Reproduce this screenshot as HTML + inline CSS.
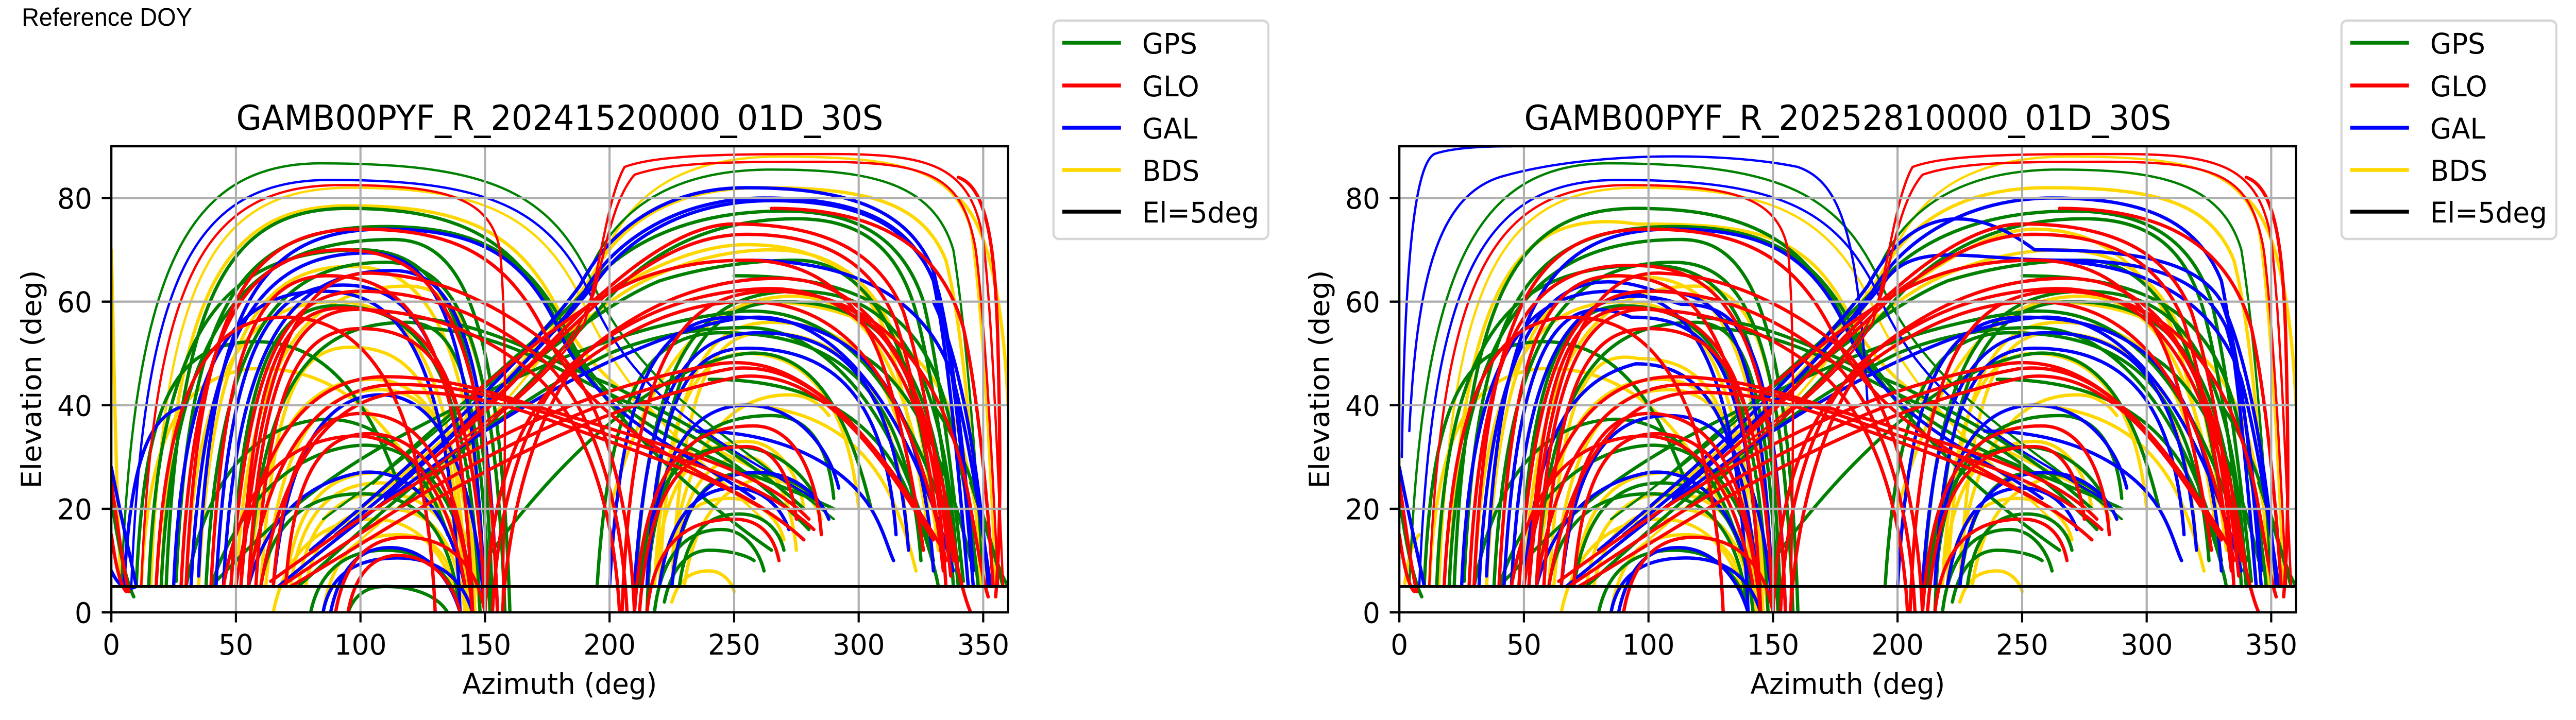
<!DOCTYPE html>
<html><head><meta charset="utf-8"><style>
html,body{margin:0;padding:0;background:#fff;width:100%;height:100%;overflow:hidden}
svg{display:block;width:100vw;height:100vh}
text{font-family:"DejaVu Sans","Liberation Sans",sans-serif;fill:#000}
.trk path{fill:none;stroke-width:6.5px;vector-effect:non-scaling-stroke;stroke-linecap:round;stroke-linejoin:round}
.trk path.th{stroke-width:4.5px}
</style></head><body>
<svg xmlns="http://www.w3.org/2000/svg" viewBox="0 0 5228 1398" preserveAspectRatio="none">
<defs>
<clipPath id="cl1"><rect x="226" y="284" width="1820" height="905"/></clipPath>
<clipPath id="cl2"><rect x="2840" y="284" width="1820" height="905"/></clipPath>
</defs>
<rect width="5228" height="1398" fill="#fff"/>
<text x="44" y="50" font-size="49" style="font-family:'Liberation Sans',Arial,sans-serif">Reference DOY</text>

<!-- ================= LEFT PANEL ================= -->
<g clip-path="url(#cl1)">
<g class="trk" transform="translate(226,1189) scale(5.0556,-10.0556)">
<g stroke="#ffd700">
<path class="th" d="M16 5 C21 65 41 82 96 82 C152 82 175 76 192 57 C212 37 248 25 270 14"/>
<path d="M20 5 C25 62 45 78.5 95 78.5 C145 78.5 165 73 182 56 C200 40 240 32 275 24"/>
<path d="M35 5 C40 53 59 66.8 96 66.8 C128 66.8 146 53 150 0"/>
<path d="M50 5 C55 50 78 63 119 63 C142 63 154 50 158 0"/>
<path d="M60 5 C65 41 74 51.2 96 51.2 C124 51.2 138 41 142 0"/>
<path d="M55 5 C60 35 78 45 105 45 C128 45 143 33 148 0"/>
<path d="M62 5 C67 33 83 43 108 43 C130 43 143 32 146 0"/>
<path d="M70 5 C74 22 88 27 108 27 C128 27 144 22 148 0"/>
<path d="M72 5 C76 20 90 25 108 25 C127 25 142 20 146 0"/>
<path d="M75 5 C79 18 92 23 108 23 C126 23 140 18 144 0"/>
<path d="M78 5 C82 16 95 20 110 20 C126 20 138 16 142 0"/>
<path d="M85 0 C89 12 100 15 115 15 C128 15 137 12 140 0"/>
<path d="M30 5 C34 48 55 60 90 60 C122 60 139 46 143 0"/>
<path d="M12 5 C15 35 28 45 55 47 C85 48 110 40 130 20"/>
<path d="M65 0 C70 12 85 18 105 18 C122 18 135 12 140 0"/>
<path class="th" d="M95 12 C135 28 178 48 197 68 C207 80 227 88 268 88 C315 88 338 86 345 74 C350 58 353 25 355 5"/>
<path d="M100 20 C140 35 175 52 193 65 C204 75 225 82 260 82 C300 82 325 80 335 68 C342 55 346 30 349 5"/>
<path d="M135 38 C158 47 182 56 200 62 C215 66 235 71 255 71 C283 71 300 66 310 55 C318 45 325 25 330 10"/>
<path d="M150 40 C170 48 192 58 210 63 C225 67 245 70 265 70 C290 70 305 64 314 54 C322 44 328 28 332 12"/>
<path d="M220 5 C224 45 238 56 265 56 C301 56 320 45 325 10"/>
<path d="M225 5 C229 43 240 54 262 54 C296 54 316 43 320 12"/>
<path d="M218 5 C222 40 235 50 255 50 C280 50 296 40 300 20"/>
<path d="M218 5 C221 26 235 33 255 33 C267 33 276 27 278 20"/>
<path d="M225 5 C228 24 240 30 255 30 C265 30 273 22 275 12"/>
<path d="M225 2 C228 7 234 8 240 8 C245 8 249 6 250 4"/>
<path d="M225 10 C230 30 245 42 272 42 C280 42 285 40 288 38"/>
<path d="M230 5 C234 20 250 26 265 26 C275 26 282 22 285 18"/>
<path d="M220 5 C223 18 234 22 248 22 C260 22 268 18 270 14"/>
<path d="M200 20 C215 45 235 60 270 61 C300 62 318 50 328 20"/>
<path d="M260 60 C305 60 330 50 340 35 C346 25 350 12 352 5"/>
<path d="M250 40 C285 40 305 32 315 20 C320 14 322 10 323 8"/>
<path d="M0 70 C1 50 2 20 4 5"/>
<path d="M340 80 C352 75 358 60 360 40"/>
</g>
<g stroke="#008000">
<path class="th" d="M4 5 C9 65 29 86.7 84 86.7 C155 86.7 178 80.7 195 61.7 C215 41.7 260 30 290 18"/>
<path d="M22 5 C27 62 47 78 95 78 C140 78 163 72 180 55 C198 38 235 22 265 12"/>
<path d="M26 6 C31 60 51 74.5 110 74.5 C150 74.5 170 68 185 52 C205 33 255 28 290 20"/>
<path d="M20 5 C25 58 57 72 113 72 C141 72 156 58 160 0"/>
<path d="M15 5 C19 55 45 70 100 70 C135 70 150 55 153 0"/>
<path d="M38 5 C43 54 67 67.6 110 67.6 C139 67.6 154 54 158 0"/>
<path d="M48 5 C53 47 65 59.2 90 59.2 C125 59.2 144 47 148 0"/>
<path d="M55 5 C60 45 81 56 119 56 C139 56 148 45 152 0"/>
<path d="M10 5 C13 40 25 50 50 52 C80 54 100 45 115 25"/>
<path d="M80 0 C84 9 96 12 110 12 C124 12 136 9 140 0"/>
<path d="M95 0 C98 4 104 5 110 5 C118 5 130 4 135 0"/>
<path d="M60 5 C64 18 80 22.9 100 22.9 C120 22.9 136 18 140 0"/>
<path d="M40 5 C50 20 70 30 95 32 C120 34 138 25 145 5"/>
<path d="M30 5 C38 25 55 35 80 37 C105 39 125 30 135 15"/>
<path d="M120 57 C150 56 170 50 200 44 C235 36 260 28 278 20"/>
<path d="M125 55 C155 54 175 48 205 41 C238 34 262 25 280 16"/>
<path d="M40 5 C60 15 80 25 120 35 C160 45 200 55 250 58 C290 60 320 45 340 10"/>
<path d="M75 5 C110 20 150 38 200 50 C220 54 240 55 255 55 C285 55 315 40 330 10"/>
<path class="th" d="M85 18 C125 32 170 50 192 66 C203 78 225 85.5 265 85.5 C305 85.5 330 83 338 70 C343 55 347 30 350 5"/>
<path d="M105 25 C135 38 170 52 190 62 C203 70 228 77.5 270 77.5 C300 77.5 318 72 326 60 C332 48 338 25 342 6"/>
<path d="M115 20 C145 32 175 48 195 58 C208 66 232 76 275 76 C302 76 316 70 323 58 C330 45 336 25 340 5"/>
<path d="M160 45 C180 52 200 60 220 64 C240 67 260 68 275 68 C295 68 310 60 318 48 C325 38 330 22 334 10"/>
<path d="M210 0 C214 50 236 62 275 62 C314 62 335 50 340 5"/>
<path d="M215 0 C219 48 237 60 270 60 C311 60 333 48 338 5"/>
<path d="M195 5 C200 43 215 54 245 54 C293 54 320 43 325 10"/>
<path d="M215 5 C219 30 235 38 265 38 C280 38 288 32 290 22"/>
<path d="M212 5 C216 25 228 32 250 32 C268 32 280 26 285 20"/>
<path d="M218 0 C221 12 232 16 245 16 C254 16 260 12 262 8"/>
<path d="M225 5 C229 22 240 27 255 27 C272 27 284 23 288 18"/>
<path d="M222 2 C225 9 232 12 240 12 C248 12 255 11 258 10"/>
<path d="M228 5 C231 16 240 19 252 19 C262 19 268 16 270 12"/>
<path d="M150 10 C180 30 220 48 255 50 C280 51 295 40 305 20"/>
<path d="M250 65 C300 65 325 58 335 40 C342 28 346 15 348 5"/>
<path d="M240 45 C280 45 305 38 318 25 C325 18 330 10 332 5"/>
<path d="M300 50 C320 45 335 30 345 10"/>
<path d="M0 22 C3 12 6 6 9 3"/>
<path d="M330 40 C345 30 352 15 358 5"/>
<path d="M345 25 C352 15 356 8 360 5"/>
</g>
<g stroke="#0000ff">
<path class="th" d="M8 5 C13 65 33 83.5 88 83.5 C155 83.5 178 77.5 195 58.5 C215 38.5 255 30 282 22"/>
<path d="M35 7 C40 60 60 74 110 74 C150 74 168 68 182 52 C200 36 235 30 258 22"/>
<path d="M32 5 C37 55 60 69.4 103 69.4 C131 69.4 146 55 150 0"/>
<path d="M45 5 C50 53 72 66 113 66 C138 66 151 53 155 0"/>
<path d="M42 5 C47 50 62 63.2 93 63.2 C124 63.2 141 50 145 0"/>
<path d="M25 5 C29 50 50 62 85 62 C118 62 136 48 140 0"/>
<path d="M5 5 C8 30 15 38 30 40"/>
<path d="M55 5 C62 18 78 25 100 27 C120 28 135 20 142 5"/>
<path d="M85 0 C88 8 100 10.5 115 10.5 C128 10.5 140 8 145 0"/>
<path d="M67 5 C110 22 150 37 198 48 C225 54 245 57 260 57 C290 57 320 40 338 8"/>
<path d="M80 12 C120 28 165 48 188 63 C200 74 222 82 255 82 C295 82 320 78 330 66 C337 52 342 30 346 5"/>
<path d="M90 15 C130 30 172 50 190 62 C202 72 228 80 262 80 C298 80 320 76 330 64 C336 50 340 28 344 5"/>
<path d="M110 22 C140 35 175 52 195 64 C207 72 230 79.5 265 79.5 C300 79.5 322 75 332 62 C338 50 343 28 346 8"/>
<path d="M200 5 C205 46 220 57 250 57 C298 57 325 46 330 8"/>
<path d="M210 5 C215 43 230 54 260 54 C296 54 315 43 320 12"/>
<path d="M215 5 C219 41 231 51 255 51 C291 51 311 41 315 15"/>
<path d="M220 5 C224 19 236 24 250 24 C262 24 269 20 272 16"/>
<path d="M215 5 C218 30 232 40 255 40 C275 40 288 32 292 24"/>
<path d="M65 5 C70 30 85 42 108 42 C130 42 145 30 150 0"/>
<path d="M88 0 C92 9 100 12.5 112 12.5 C124 12.5 135 8 140 0"/>
<path d="M225 5 C228 22 240 27 260 27 C275 27 285 22 288 18"/>
<path d="M255 68 C300 68 328 60 338 45 C345 32 350 15 353 5"/>
<path d="M235 35 C270 35 295 28 305 20 C310 16 312 12 314 10"/>
<path d="M330 60 C340 50 348 30 352 5"/>
<path d="M0 28 C4 18 8 10 10 5"/>
<path d="M0 8 C3 5 6 4 10 5"/>
</g>
<g stroke="#ff0000">
<path class="th" d="M12 5 C17 65 37 82.5 92 82.5 C135 82.5 152 80 156 70 C159 55 158 25 157 0"/>
<path d="M30 5 C35 60 55 74 100 74 C140 74 160 68 175 53 C195 35 235 28 262 20"/>
<path d="M28 5 C33 56 54 70 93 70 C131 70 151 56 155 0"/>
<path d="M40 5 C45 52 59 65 87 65 C122 65 141 52 145 0"/>
<path d="M52 5 C57 47 68 58.8 93 58.8 C127 58.8 146 47 150 0"/>
<path d="M58 5 C63 44 75 54.8 100 54.8 C131 54.8 146 44 150 0"/>
<path d="M18 5 C22 45 40 57 70 57 C100 57 126 44 130 0"/>
<path d="M65 5 C69 30 82 38.4 100 38.4 C122 38.4 140 30 145 0"/>
<path d="M70 5 C73 27 85 34.5 103 34.5 C122 34.5 140 27 145 0"/>
<path d="M45 5 C52 25 70 33 95 34 C118 35 135 25 142 5"/>
<path d="M90 0 C94 11 105 14.5 118 14.5 C132 14.5 146 11 150 0"/>
<path d="M95 0 C98 8 106 11 115 11 C125 11 136 8 140 0"/>
<path d="M64 6 C110 22 170 42 244 48 C275 50 300 38 330 15"/>
<path d="M68 5 C115 20 172 40 248 47 C280 49 305 35 334 12"/>
<path d="M72 5 C118 18 176 38 252 45.5 C282 47 305 34 330 14"/>
<path d="M50 5 C58 32 78 45.5 110 45.5 C140 45.5 160 41 190 37 C230 31 262 27 280 18"/>
<path d="M55 5 C63 30 82 44 115 44 C145 44 165 40 195 35 C232 29 262 25 282 16"/>
<path d="M60 5 C68 28 88 42.5 120 42.5 C150 42.5 170 38 200 33 C235 27 260 22 278 14"/>
<path class="th" d="M130 28 C155 38 178 46 190 56 C196 66 199 80 206 86 C220 88.5 250 88.5 290 88.5 C330 88.5 345 86 350 72 C354 55 356 25 358 5"/>
<path class="th" d="M140 33 C165 42 185 50 194 62 C199 72 202 80 210 84.5 C225 87 250 87 285 87 C330 87 342 84 347 70 C351 55 354 25 356 5"/>
<path d="M130 30 C155 40 180 55 198 62 C212 68 232 75 250 75 C285 75 308 70 318 58 C326 46 333 25 337 7"/>
<path d="M140 35 C160 44 185 55 200 62 C215 67 232 73 255 73 C285 73 305 68 315 56 C323 44 330 25 334 8"/>
<path d="M145 42 C165 50 190 60 210 64 C225 67 240 68 255 68 C280 68 298 62 308 50 C316 40 322 25 326 12"/>
<path d="M205 0 C209 50 229 62 265 62 C307 62 330 50 335 5"/>
<path d="M210 0 C214 28 230 36 258 36 C273 36 283 28 285 15"/>
<path d="M212 0 C216 25 230 32 255 32 C266 32 273 26 275 18"/>
<path d="M215 0 C218 14 232 18 250 18 C260 18 266 15 268 10"/>
<path d="M153 0 C155 20 165 38 185 48 C210 58 235 62 262 62.5 C300 63 325 50 338 10"/>
<path d="M157 0 C160 22 172 40 190 50 C215 60 240 64.5 268 64.5 C305 64.5 328 48 340 8"/>
<path d="M150 0 C152 20 160 35 178 44 C205 55 230 60 255 60 C295 60 320 45 335 10"/>
<path d="M207 0 C205 20 195 38 175 48 C150 58 125 62 100 62 C70 62 55 50 48 5"/>
<path d="M210 0 C208 22 198 40 180 50 C155 60 130 65 105 65.5 C78 66 60 52 52 5"/>
<path d="M204 0 C202 18 193 35 172 45 C148 55 125 58 100 58.5 C75 59 60 48 55 5"/>
<path d="M265 78 C310 78 333 70 342 55 C348 42 352 20 354 5"/>
<path d="M290 60 C320 55 338 40 345 20 C348 12 350 6 352 3"/>
<path d="M340 84 C352 82 355 70 356 50 C357 30 357 15 355 3"/>
<path d="M0 25 C3 15 5 8 7 4"/>
<path d="M0 15 C2 8 4 5 6 4"/>
<path d="M338 12 C341 6 343 2 345 0"/>
</g>
</g>
</g>
<!-- grid left -->
<g stroke="#b0b0b0" stroke-width="4.4">
<line x1="478.8" y1="284" x2="478.8" y2="1189"/><line x1="731.6" y1="284" x2="731.6" y2="1189"/>
<line x1="984.3" y1="284" x2="984.3" y2="1189"/><line x1="1237.1" y1="284" x2="1237.1" y2="1189"/>
<line x1="1489.9" y1="284" x2="1489.9" y2="1189"/><line x1="1742.7" y1="284" x2="1742.7" y2="1189"/>
<line x1="1995.4" y1="284" x2="1995.4" y2="1189"/>
<line x1="226" y1="987.9" x2="2046" y2="987.9"/><line x1="226" y1="786.8" x2="2046" y2="786.8"/>
<line x1="226" y1="585.7" x2="2046" y2="585.7"/><line x1="226" y1="384.6" x2="2046" y2="384.6"/>
</g>
<line x1="226" y1="1138.7" x2="2046" y2="1138.7" stroke="#000" stroke-width="5.5"/>
<rect x="226" y="284" width="1820" height="905" fill="none" stroke="#000" stroke-width="4.4"/>
<g stroke="#000" stroke-width="4.4">
<line x1="226" y1="1189" x2="226" y2="1208.5"/><line x1="478.8" y1="1189" x2="478.8" y2="1208.5"/>
<line x1="731.6" y1="1189" x2="731.6" y2="1208.5"/><line x1="984.3" y1="1189" x2="984.3" y2="1208.5"/>
<line x1="1237.1" y1="1189" x2="1237.1" y2="1208.5"/><line x1="1489.9" y1="1189" x2="1489.9" y2="1208.5"/>
<line x1="1742.7" y1="1189" x2="1742.7" y2="1208.5"/><line x1="1995.4" y1="1189" x2="1995.4" y2="1208.5"/>
<line x1="206.5" y1="1189" x2="226" y2="1189"/><line x1="206.5" y1="987.9" x2="226" y2="987.9"/>
<line x1="206.5" y1="786.8" x2="226" y2="786.8"/><line x1="206.5" y1="585.7" x2="226" y2="585.7"/>
<line x1="206.5" y1="384.6" x2="226" y2="384.6"/>
</g>
<g font-size="55.6" text-anchor="middle">
<text x="226" y="1271">0</text><text x="478.8" y="1271">50</text><text x="731.6" y="1271">100</text>
<text x="984.3" y="1271">150</text><text x="1237.1" y="1271">200</text><text x="1489.9" y="1271">250</text>
<text x="1742.7" y="1271">300</text><text x="1995.4" y="1271">350</text>
<text x="1136" y="1347">Azimuth (deg)</text>
<text transform="translate(83,736.5) rotate(-90)">Elevation (deg)</text>
</g>
<g font-size="55.6" text-anchor="end">
<text x="187" y="1209.5">0</text><text x="187" y="1008.4">20</text><text x="187" y="807.3">40</text>
<text x="187" y="606.2">60</text><text x="187" y="405.1">80</text>
</g>
<text x="1136" y="252" font-size="66.7" text-anchor="middle">GAMB00PYF_R_20241520000_01D_30S</text>
<!-- legend left -->
<rect x="2138" y="40" width="436" height="424" rx="11" fill="#fff" stroke="#d6d6d6" stroke-width="4.4"/>
<g stroke-width="7.5">
<line x1="2156" y1="83" x2="2275" y2="83" stroke="#008000"/>
<line x1="2156" y1="166" x2="2275" y2="166" stroke="#ff0000"/>
<line x1="2156" y1="248" x2="2275" y2="248" stroke="#0000ff"/>
<line x1="2156" y1="330" x2="2275" y2="330" stroke="#ffd700"/>
<line x1="2156" y1="411" x2="2275" y2="411" stroke="#000"/>
</g>
<g font-size="55.6">
<text x="2318" y="104">GPS</text><text x="2318" y="187">GLO</text><text x="2318" y="269">GAL</text>
<text x="2318" y="351">BDS</text><text x="2318" y="432">El=5deg</text>
</g>

<!-- ================= RIGHT PANEL ================= -->
<g clip-path="url(#cl2)">
<g class="trk" transform="translate(2840,1189) scale(5.0556,-10.0556)">
<g stroke="#ffd700">
<path class="th" d="M16 5 C21 65 41 82 96 82 C152 82 175 76 192 57 C212 37 248 25 270 14"/>
<path d="M20 5 C25 62 45 78.5 95 75 C145 75 165 73 182 56 C200 40 240 32 275 24"/>
<path d="M35 5 C40 53 59 66.8 96 64.8 C128 64.8 146 53 150 0"/>
<path d="M50 5 C55 50 78 63 119 63 C142 63 154 50 158 0"/>
<path d="M60 5 C65 41 74 51.2 96 49 C124 49 138 41 142 0"/>
<path d="M55 5 C60 35 78 45 105 45 C128 45 143 33 148 0"/>
<path d="M62 5 C67 33 83 43 108 43 C130 43 143 32 146 0"/>
<path d="M70 5 C74 22 88 27 108 27 C128 27 144 22 148 0"/>
<path d="M75 5 C79 18 92 23 108 23 C126 23 140 18 144 0"/>
<path d="M78 5 C82 16 95 20 110 20 C126 20 138 16 142 0"/>
<path d="M85 0 C89 12 100 15 115 15 C128 15 137 12 140 0"/>
<path d="M30 5 C34 48 55 60 90 60 C122 60 139 46 143 0"/>
<path d="M12 5 C15 35 28 45 55 47 C85 48 110 40 130 20"/>
<path d="M65 0 C70 12 85 18 105 18 C122 18 135 12 140 0"/>
<path class="th" d="M95 12 C135 28 178 48 197 68 C207 80 227 88 268 88 C315 88 338 86 345 74 C350 58 353 25 355 5"/>
<path d="M100 20 C140 35 175 52 193 65 C204 75 225 82 260 82 C300 82 325 80 335 68 C342 55 346 30 349 5"/>
<path d="M135 38 C158 47 182 56 200 62 C215 66 235 74 255 74 C283 74 300 66 310 55 C318 45 325 25 330 10"/>
<path d="M150 40 C170 48 192 58 210 63 C225 67 245 70 265 70 C290 70 305 64 314 54 C322 44 328 28 332 12"/>
<path d="M220 5 C224 45 238 56 265 56 C301 56 320 45 325 10"/>
<path d="M225 5 C229 43 240 54 262 54 C296 54 316 43 320 12"/>
<path d="M218 5 C222 40 235 50 255 50 C280 50 296 40 300 20"/>
<path d="M218 5 C221 26 235 33 255 33 C267 33 276 27 278 20"/>
<path d="M225 2 C228 7 234 8 240 8 C245 8 249 6 250 4"/>
<path d="M225 10 C230 30 245 42 272 42 C280 42 285 40 288 38"/>
<path d="M230 5 C234 20 250 26 265 26 C275 26 282 22 285 18"/>
<path d="M220 5 C223 18 234 22 248 22 C260 22 268 18 270 14"/>
<path d="M200 20 C215 45 235 60 270 61 C300 62 318 50 328 20"/>
<path d="M260 60 C305 60 330 50 340 35 C346 25 350 12 352 5"/>
<path d="M250 40 C285 40 305 32 315 20 C320 14 322 10 323 8"/>
<path d="M340 80 C352 75 358 60 360 40"/>
<path d="M2 5 C4 12 6 14 8 15"/>
</g>
<g stroke="#008000">
<path class="th" d="M4 5 C9 65 29 86.7 84 86.7 C155 86.7 178 80.7 195 61.7 C215 41.7 260 30 290 18"/>
<path d="M22 5 C27 62 47 78 95 78 C140 78 163 72 180 55 C198 38 235 22 265 12"/>
<path d="M26 6 C31 60 51 74.5 110 74.5 C150 74.5 170 68 185 52 C205 33 255 28 290 20"/>
<path d="M20 5 C25 58 57 72 113 72 C141 72 156 58 160 0"/>
<path d="M15 5 C19 55 45 67 100 67 C135 67 150 55 153 0"/>
<path d="M38 5 C43 54 67 67.6 110 67.6 C139 67.6 154 54 158 0"/>
<path d="M48 5 C53 47 65 59.2 90 59.2 C125 59.2 144 47 148 0"/>
<path d="M55 5 C60 45 81 56 119 56 C139 56 148 45 152 0"/>
<path d="M10 5 C13 40 25 50 50 52 C80 54 100 45 115 25"/>
<path d="M80 0 C84 9 96 12 110 12 C124 12 136 9 140 0"/>
<path d="M60 5 C64 18 80 22.9 100 22.9 C120 22.9 136 18 140 0"/>
<path d="M70 5 C75 20 88 25 105 25 C122 25 138 20 142 0"/>
<path d="M40 5 C50 20 70 30 95 32 C120 34 138 25 145 5"/>
<path d="M30 5 C38 25 55 35 80 37 C105 39 125 30 135 15"/>
<path d="M120 57 C150 56 170 50 200 44 C235 36 260 28 278 20"/>
<path d="M125 55 C155 54 175 48 205 41 C238 34 262 25 280 16"/>
<path d="M40 5 C60 15 80 25 120 35 C160 45 200 55 250 58 C290 60 320 45 340 10"/>
<path d="M75 5 C110 20 150 38 200 50 C220 54 240 55 255 55 C285 55 315 40 330 10"/>
<path class="th" d="M85 18 C125 32 170 50 192 66 C203 78 225 85.5 265 85.5 C305 85.5 330 83 338 70 C343 55 347 30 350 5"/>
<path d="M105 25 C135 38 170 52 190 62 C203 70 228 77.5 270 77.5 C300 77.5 318 72 326 60 C332 48 338 25 342 6"/>
<path d="M115 20 C145 32 175 48 195 58 C208 66 232 76 275 76 C302 76 316 70 323 58 C330 45 336 25 340 5"/>
<path d="M160 45 C180 52 200 60 220 64 C240 67 260 68 275 68 C295 68 310 60 318 48 C325 38 330 22 334 10"/>
<path d="M210 0 C214 50 236 62 275 62 C314 62 335 50 340 5"/>
<path d="M215 0 C219 48 237 60 270 60 C311 60 333 48 338 5"/>
<path d="M195 5 C200 43 215 54 245 54 C293 54 320 43 325 10"/>
<path d="M215 5 C219 30 235 38 265 38 C280 38 288 32 290 22"/>
<path d="M212 5 C216 25 228 32 250 32 C268 32 280 26 285 20"/>
<path d="M218 0 C221 12 232 16 245 16 C254 16 260 12 262 8"/>
<path d="M225 5 C229 22 240 27 255 27 C272 27 284 23 288 18"/>
<path d="M222 2 C225 9 232 12 240 12 C248 12 255 11 258 10"/>
<path d="M228 5 C231 16 240 19 252 19 C262 19 268 16 270 12"/>
<path d="M150 10 C180 30 220 48 255 50 C280 51 295 40 305 20"/>
<path d="M250 65 C300 65 325 58 335 40 C342 28 346 15 348 5"/>
<path d="M240 45 C280 45 305 38 318 25 C325 18 330 10 332 5"/>
<path d="M300 50 C320 45 335 30 345 10"/>
<path d="M0 22 C3 12 6 6 9 3"/>
<path d="M330 40 C345 30 352 15 358 5"/>
<path d="M345 25 C352 15 356 8 360 5"/>
</g>
<g stroke="#0000ff">
<path class="th" d="M1 30 C2 62 5 86 14 88.5 C20 89.5 30 90 45 90"/>
<path class="th" d="M4 35 C7 64 15 80 40 84 C75 89 130 89 160 86 C178 83 184 72 188 40"/>
<path class="th" d="M8 5 C13 65 33 83.5 88 83.5 C155 83.5 178 77.5 195 58.5 C215 38.5 255 30 282 22"/>
<path d="M35 7 C40 60 60 74 110 74 C150 74 168 68 182 52 C200 36 235 30 258 22"/>
<path d="M32 5 C37 55 60 69.4 103 62 C131 62 146 55 150 0"/>
<path d="M45 5 C50 53 72 66 113 59.5 C138 59.5 151 53 155 0"/>
<path d="M42 5 C47 50 62 63.2 93 57 C124 57 141 50 145 0"/>
<path d="M50 5 C55 35 70 45 95 48 C120 48 138 40 145 0"/>
<path d="M25 5 C29 50 50 62 85 62 C118 62 136 48 140 0"/>
<path d="M55 5 C62 18 78 25 100 27 C120 28 135 20 142 5"/>
<path d="M85 0 C88 8 100 10.5 115 10.5 C128 10.5 140 8 145 0"/>
<path d="M67 5 C110 22 150 37 198 48 C225 54 245 57 260 57 C290 57 320 40 338 8"/>
<path d="M80 12 C120 28 165 48 188 63 C200 74 222 82 255 70 C295 70 320 68 330 60 C337 52 342 30 346 5"/>
<path d="M90 15 C130 30 172 50 190 62 C202 72 228 80 262 80 C298 80 320 76 330 64 C336 50 340 28 344 5"/>
<path d="M110 22 C140 35 175 52 195 64 C207 72 230 68 265 68 C300 68 322 65 332 55 C338 45 343 28 346 8"/>
<path d="M200 5 C205 46 220 57 250 57 C298 57 325 46 330 8"/>
<path d="M210 5 C215 43 230 54 260 54 C296 54 315 43 320 12"/>
<path d="M215 5 C219 41 231 51 255 51 C291 51 311 41 315 15"/>
<path d="M220 5 C224 19 236 24 250 24 C262 24 269 20 272 16"/>
<path d="M215 5 C218 30 232 40 255 40 C275 40 288 32 292 24"/>
<path d="M65 5 C70 30 85 38 108 38 C130 38 145 30 150 0"/>
<path d="M88 0 C92 9 100 12.5 112 12.5 C124 12.5 135 8 140 0"/>
<path d="M225 5 C228 22 240 27 260 27 C275 27 285 22 288 18"/>
<path d="M255 68 C300 68 328 60 338 45 C345 32 350 15 353 5"/>
<path d="M235 35 C270 35 295 28 305 20 C310 16 312 12 314 10"/>
<path d="M330 60 C340 50 348 30 352 5"/>
<path d="M0 28 C4 18 8 10 10 5"/>
</g>
<g stroke="#ff0000">
<path class="th" d="M12 5 C17 65 37 82.5 92 82.5 C135 82.5 152 80 156 70 C159 55 158 25 157 0"/>
<path d="M30 5 C35 60 55 74 100 74 C140 74 160 68 175 53 C195 35 235 28 262 20"/>
<path d="M28 5 C33 56 54 67 93 67 C131 67 151 56 155 0"/>
<path d="M40 5 C45 52 59 65 87 65 C122 65 141 52 145 0"/>
<path d="M52 5 C57 47 68 58.8 93 58.8 C127 58.8 146 47 150 0"/>
<path d="M58 5 C63 44 75 54.8 100 54.8 C131 54.8 146 44 150 0"/>
<path d="M18 5 C22 45 40 57 70 57 C100 57 126 44 130 0"/>
<path d="M65 5 C69 30 82 38.4 100 38.4 C122 38.4 140 30 145 0"/>
<path d="M70 5 C73 27 85 34.5 103 34.5 C122 34.5 140 27 145 0"/>
<path d="M45 5 C52 25 70 33 95 34 C118 35 135 25 142 5"/>
<path d="M90 0 C94 11 105 14.5 118 14.5 C132 14.5 146 11 150 0"/>
<path d="M64 6 C110 22 170 42 244 48 C275 50 300 38 330 15"/>
<path d="M68 5 C115 20 172 40 248 47 C280 49 305 35 334 12"/>
<path d="M72 5 C118 18 176 38 252 45.5 C282 47 305 34 330 14"/>
<path d="M50 5 C58 32 78 45.5 110 45.5 C140 45.5 160 41 190 37 C230 31 262 27 280 18"/>
<path d="M55 5 C63 30 82 44 115 44 C145 44 165 40 195 35 C232 29 262 25 282 16"/>
<path d="M60 5 C68 28 88 42.5 120 42.5 C150 42.5 170 38 200 33 C235 27 260 22 278 14"/>
<path class="th" d="M130 28 C155 38 178 46 190 56 C196 66 199 80 206 86 C220 88.5 250 88.5 290 88.5 C330 88.5 345 86 350 72 C354 55 356 25 358 5"/>
<path class="th" d="M140 33 C165 42 185 50 194 62 C199 72 202 80 210 84.5 C225 87 250 87 285 87 C330 87 342 84 347 70 C351 55 354 25 356 5"/>
<path d="M130 30 C155 40 180 55 198 62 C212 68 232 75 250 75 C285 75 308 70 318 58 C326 46 333 25 337 7"/>
<path d="M140 35 C160 44 185 55 200 62 C215 67 232 73 255 73 C285 73 305 68 315 56 C323 44 330 25 334 8"/>
<path d="M145 42 C165 50 190 60 210 64 C225 67 240 68 255 68 C280 68 298 62 308 50 C316 40 322 25 326 12"/>
<path d="M205 0 C209 50 229 62 265 62 C307 62 330 50 335 5"/>
<path d="M210 0 C214 28 230 36 258 36 C273 36 283 28 285 15"/>
<path d="M212 0 C216 25 230 32 255 32 C266 32 273 26 275 18"/>
<path d="M215 0 C218 14 232 18 250 18 C260 18 266 15 268 10"/>
<path d="M153 0 C155 20 165 38 185 48 C210 58 235 62 262 62.5 C300 63 325 50 338 10"/>
<path d="M157 0 C160 22 172 40 190 50 C215 60 240 64.5 268 64.5 C305 64.5 328 48 340 8"/>
<path d="M150 0 C152 20 160 35 178 44 C205 55 230 60 255 60 C295 60 320 45 335 10"/>
<path d="M207 0 C205 20 195 38 175 48 C150 58 125 62 100 62 C70 62 55 50 48 5"/>
<path d="M210 0 C208 22 198 40 180 50 C155 60 130 65 105 65.5 C78 66 60 52 52 5"/>
<path d="M204 0 C202 18 193 35 172 45 C148 55 125 58 100 58.5 C75 59 60 48 55 5"/>
<path d="M265 78 C310 78 333 70 342 55 C348 42 352 20 354 5"/>
<path d="M290 60 C320 55 338 40 345 20 C348 12 350 6 352 3"/>
<path d="M340 84 C352 82 355 70 356 50 C357 30 357 15 355 3"/>
<path d="M0 25 C3 15 5 8 7 4"/>
<path d="M0 15 C2 8 4 5 6 4"/>
<path d="M338 12 C341 6 343 2 345 0"/>
</g>
</g>
</g>
<!-- grid right -->
<g stroke="#b0b0b0" stroke-width="4.4">
<line x1="3092.8" y1="284" x2="3092.8" y2="1189"/><line x1="3345.6" y1="284" x2="3345.6" y2="1189"/>
<line x1="3598.3" y1="284" x2="3598.3" y2="1189"/><line x1="3851.1" y1="284" x2="3851.1" y2="1189"/>
<line x1="4103.9" y1="284" x2="4103.9" y2="1189"/><line x1="4356.7" y1="284" x2="4356.7" y2="1189"/>
<line x1="4609.4" y1="284" x2="4609.4" y2="1189"/>
<line x1="2840" y1="987.9" x2="4660" y2="987.9"/><line x1="2840" y1="786.8" x2="4660" y2="786.8"/>
<line x1="2840" y1="585.7" x2="4660" y2="585.7"/><line x1="2840" y1="384.6" x2="4660" y2="384.6"/>
</g>
<line x1="2840" y1="1138.7" x2="4660" y2="1138.7" stroke="#000" stroke-width="5.5"/>
<rect x="2840" y="284" width="1820" height="905" fill="none" stroke="#000" stroke-width="4.4"/>
<g stroke="#000" stroke-width="4.4">
<line x1="2840" y1="1189" x2="2840" y2="1208.5"/><line x1="3092.8" y1="1189" x2="3092.8" y2="1208.5"/>
<line x1="3345.6" y1="1189" x2="3345.6" y2="1208.5"/><line x1="3598.3" y1="1189" x2="3598.3" y2="1208.5"/>
<line x1="3851.1" y1="1189" x2="3851.1" y2="1208.5"/><line x1="4103.9" y1="1189" x2="4103.9" y2="1208.5"/>
<line x1="4356.7" y1="1189" x2="4356.7" y2="1208.5"/><line x1="4609.4" y1="1189" x2="4609.4" y2="1208.5"/>
<line x1="2820.5" y1="1189" x2="2840" y2="1189"/><line x1="2820.5" y1="987.9" x2="2840" y2="987.9"/>
<line x1="2820.5" y1="786.8" x2="2840" y2="786.8"/><line x1="2820.5" y1="585.7" x2="2840" y2="585.7"/>
<line x1="2820.5" y1="384.6" x2="2840" y2="384.6"/>
</g>
<g font-size="55.6" text-anchor="middle">
<text x="2840" y="1271">0</text><text x="3092.8" y="1271">50</text><text x="3345.6" y="1271">100</text>
<text x="3598.3" y="1271">150</text><text x="3851.1" y="1271">200</text><text x="4103.9" y="1271">250</text>
<text x="4356.7" y="1271">300</text><text x="4609.4" y="1271">350</text>
<text x="3750" y="1347">Azimuth (deg)</text>
<text transform="translate(2697,736.5) rotate(-90)">Elevation (deg)</text>
</g>
<g font-size="55.6" text-anchor="end">
<text x="2801" y="1209.5">0</text><text x="2801" y="1008.4">20</text><text x="2801" y="807.3">40</text>
<text x="2801" y="606.2">60</text><text x="2801" y="405.1">80</text>
</g>
<text x="3750" y="252" font-size="66.7" text-anchor="middle">GAMB00PYF_R_20252810000_01D_30S</text>
<!-- legend right -->
<rect x="4752" y="40" width="436" height="424" rx="11" fill="#fff" stroke="#d6d6d6" stroke-width="4.4"/>
<g stroke-width="7.5">
<line x1="4770" y1="83" x2="4889" y2="83" stroke="#008000"/>
<line x1="4770" y1="166" x2="4889" y2="166" stroke="#ff0000"/>
<line x1="4770" y1="248" x2="4889" y2="248" stroke="#0000ff"/>
<line x1="4770" y1="330" x2="4889" y2="330" stroke="#ffd700"/>
<line x1="4770" y1="411" x2="4889" y2="411" stroke="#000"/>
</g>
<g font-size="55.6">
<text x="4932" y="104">GPS</text><text x="4932" y="187">GLO</text><text x="4932" y="269">GAL</text>
<text x="4932" y="351">BDS</text><text x="4932" y="432">El=5deg</text>
</g>
</svg>
</body></html>
